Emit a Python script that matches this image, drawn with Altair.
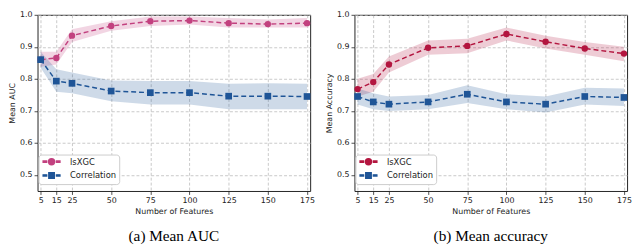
import altair as alt
import pandas as pd

features = [5, 15, 25, 50, 75, 100, 125, 150, 175]
series = ["lsXGC", "Correlation"]
x_ticks = [5, 15, 25, 50, 75, 100, 125, 150, 175]
y_ticks = [0.5, 0.6, 0.7, 0.8, 0.9, 1.0]

# (a) Mean AUC
auc_ls_mean = [0.860, 0.865, 0.935, 0.965, 0.980, 0.982, 0.974, 0.971, 0.974]
auc_ls_lo = [0.838, 0.845, 0.915, 0.950, 0.965, 0.970, 0.960, 0.960, 0.960]
auc_ls_hi = [0.885, 0.885, 0.955, 0.980, 0.995, 0.995, 0.990, 0.985, 0.990]
auc_co_mean = [0.860, 0.793, 0.786, 0.762, 0.757, 0.757, 0.746, 0.746, 0.745]
auc_co_lo = [0.835, 0.760, 0.755, 0.730, 0.720, 0.720, 0.705, 0.705, 0.705]
auc_co_hi = [0.885, 0.830, 0.820, 0.795, 0.793, 0.793, 0.785, 0.786, 0.785]

# (b) Mean accuracy
acc_ls_mean = [0.768, 0.790, 0.845, 0.897, 0.903, 0.940, 0.916, 0.895, 0.879]
acc_ls_lo = [0.745, 0.760, 0.820, 0.875, 0.880, 0.920, 0.895, 0.875, 0.855]
acc_ls_hi = [0.800, 0.815, 0.870, 0.920, 0.925, 0.960, 0.935, 0.915, 0.900]
acc_co_mean = [0.745, 0.728, 0.721, 0.728, 0.752, 0.728, 0.721, 0.745, 0.742]
acc_co_lo = [0.720, 0.705, 0.700, 0.705, 0.725, 0.705, 0.695, 0.720, 0.715]
acc_co_hi = [0.770, 0.755, 0.745, 0.750, 0.780, 0.752, 0.745, 0.772, 0.770]

blue = "#1f5597"
colors_a = ["#c2417f", blue]
colors_b = ["#b3153f", blue]

legend_paths = [
    "M-3.4,-0.25H-2V0.25H-3.4Z M2,-0.25H3.4V0.25H2Z "
    "M-1.2,0A1.2,1.2,0,1,0,1.2,0A1.2,1.2,0,1,0,-1.2,0Z",
    "M-3.4,-0.25H-2V0.25H-3.4Z M2,-0.25H3.4V0.25H2Z "
    "M-1.1,-1.1H1.1V1.1H-1.1Z",
]


def make_df(ls_m, ls_lo, ls_hi, co_m, co_lo, co_hi):
    rows = []
    for i, f in enumerate(features):
        rows.append(dict(features=f, series="lsXGC", mean=ls_m[i], lo=ls_lo[i], hi=ls_hi[i]))
    for i, f in enumerate(features):
        rows.append(dict(features=f, series="Correlation", mean=co_m[i], lo=co_lo[i], hi=co_hi[i]))
    return pd.DataFrame(rows)


W, H = 277, 179
YS = alt.Scale(domain=[0.45, 1.0], nice=False, zero=False)


def panel(df, colors, ytitle, caption):
    base = alt.Chart(df)
    x = alt.X(
        "features:Q",
        scale=alt.Scale(domain=[3, 177], nice=False, zero=False),
        axis=alt.Axis(values=x_ticks, title="Number of Features"),
    )
    yax = alt.Axis(values=y_ticks, format=".1f", title=ytitle)
    y = alt.Y("mean:Q", scale=YS, axis=yax)
    cscale = alt.Scale(domain=series, range=colors)
    color_nl = alt.Color("series:N", scale=cscale, legend=None)

    band = base.mark_area(opacity=0.22).encode(
        x=x, y=alt.Y("lo:Q", scale=YS, axis=yax), y2="hi:Q", color=color_nl,
    )
    line = base.mark_line(strokeDash=[5, 3], strokeWidth=1.5).encode(x=x, y=y, color=color_nl)
    circles = base.mark_point(filled=True, opacity=1, size=42, shape="circle").encode(
        x=x, y=y, color=color_nl
    ).transform_filter(alt.datum.series == "lsXGC")
    squares = base.mark_point(filled=True, opacity=1, size=46, shape="square").encode(
        x=x, y=y, color=color_nl
    ).transform_filter(alt.datum.series == "Correlation")
    leg = base.mark_point(filled=True, opacity=1, size=1).encode(
        x=x, y=y,
        color=alt.Color(
            "series:N", scale=cscale,
            legend=alt.Legend(
                title=None, orient="none", legendX=1, legendY=H - 37,
                fillColor="white", strokeColor="#cccccc", cornerRadius=3,
                padding=3, symbolSize=25, symbolOffset=6,
                labelOffset=14.5, rowPadding=1, labelFontSize=8.5,
                labelFont="DejaVu Sans", labelColor="#222222",
            ),
        ),
        shape=alt.Shape("series:N", scale=alt.Scale(domain=series, range=legend_paths)),
    )
    return alt.layer(leg, band, line, circles, squares).properties(
        width=W, height=H,
        title=alt.TitleParams(
            caption, orient="bottom", font="Liberation Serif", fontSize=15.5,
            fontWeight="normal", color="black", offset=14,
        ),
    )


df_a = make_df(auc_ls_mean, auc_ls_lo, auc_ls_hi, auc_co_mean, auc_co_lo, auc_co_hi)
df_b = make_df(acc_ls_mean, acc_ls_lo, acc_ls_hi, acc_co_mean, acc_co_lo, acc_co_hi)

chart = alt.hconcat(
    panel(df_a, colors_a, "Mean AUC", "(a) Mean AUC"),
    panel(df_b, colors_b, "Mean Accuracy", "(b) Mean accuracy"),
    spacing=10,
).resolve_scale(color="independent", shape="independent").resolve_legend(
    color="independent", shape="independent"
).configure(
    padding=0,
    background="white",
).configure_view(
    stroke="#222222", strokeWidth=1,
).configure_axis(
    domain=False,
    grid=True, gridDash=[3, 2], gridColor="#bbbbbb", gridWidth=0.8,
    tickColor="#222222", tickSize=3.5, tickWidth=0.8,
    labelFont="DejaVu Sans", labelFontSize=8, labelColor="#222222", labelPadding=2,
    titleFont="DejaVu Sans", titleFontSize=8, titleFontWeight="normal",
    titleColor="#222222", titlePadding=3,
)

chart.save("out.html", embed_options={"renderer": "svg", "actions": False})
